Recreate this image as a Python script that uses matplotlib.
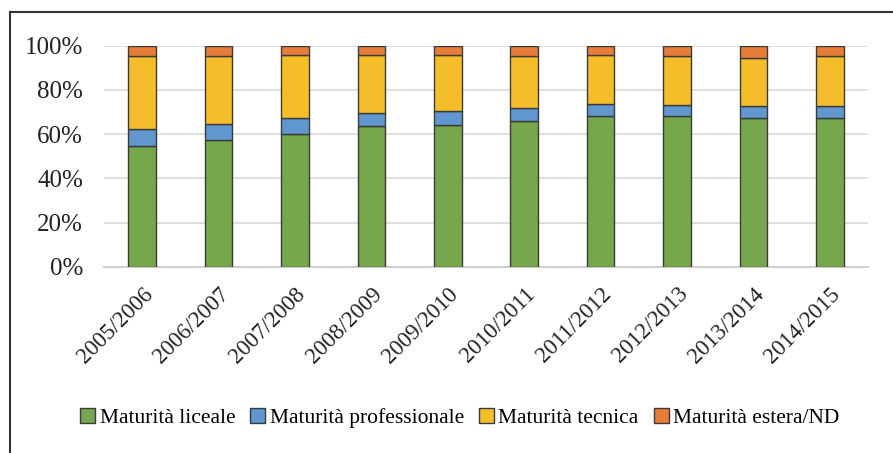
import matplotlib
matplotlib.use("Agg")
import matplotlib.pyplot as plt
from matplotlib.lines import Line2D
from matplotlib.ticker import FuncFormatter
import numpy as np

years = ["2005/2006", "2006/2007", "2007/2008", "2008/2009", "2009/2010",
         "2010/2011", "2011/2012", "2012/2013", "2013/2014", "2014/2015"]

liceale = [54.6, 57.3, 60.2, 63.7, 64.3, 66.1, 68.3, 68.3, 67.3, 67.3]
professionale = [7.6, 7.1, 7.1, 5.8, 6.0, 5.9, 5.5, 4.9, 5.3, 5.3]
tecnica = [33.0, 30.8, 28.5, 26.3, 25.5, 23.2, 22.0, 22.0, 21.8, 22.6]
estera = [4.8, 4.8, 4.2, 4.2, 4.2, 4.8, 4.2, 4.8, 5.6, 4.8]

series = [
    ("Maturità liceale", liceale, "#77A74C"),
    ("Maturità professionale", professionale, "#5F97CE"),
    ("Maturità tecnica", tecnica, "#F4BD29"),
    ("Maturità estera/ND", estera, "#E67E3A"),
]

plt.rcParams["font.family"] = ["Liberation Serif", "DejaVu Serif"]

fig = plt.figure(figsize=(8.93, 4.53), dpi=100)
ax = fig.add_axes([0.1165, 0.411, 0.8555, 0.488])

x = np.arange(len(years))
bottom = np.zeros(len(years))
for name, vals, color in series:
    vals = np.asarray(vals, dtype=float)
    ax.bar(x, vals, width=0.36, bottom=bottom, color=color,
           edgecolor="#3a3a3a", linewidth=1.0, label=name, zorder=3)
    bottom += vals

ax.set_xlim(-0.5, len(years) - 0.5)
ax.set_ylim(0, 100)
ax.set_yticks(np.arange(0, 101, 20))
ax.yaxis.set_major_formatter(FuncFormatter(lambda v, p: f"{int(v)}%"))
ax.grid(axis="y", color="#d9d9d9", linewidth=1.2, zorder=0)
ax.set_axisbelow(True)

for side in ("top", "right", "left"):
    ax.spines[side].set_visible(False)
ax.spines["bottom"].set_color("#d0d0d0")
ax.spines["bottom"].set_linewidth(1.5)

ax.tick_params(axis="both", length=0, colors="#222222")
ax.tick_params(axis="y", pad=15, labelsize=18)
ax.tick_params(axis="x", pad=12, labelsize=16.5)
ax.set_xticks(x)
ax.set_xticklabels(years, rotation=45, ha="right", rotation_mode="anchor")

fig.legend(loc="center", bbox_to_anchor=(0.515, 0.077), ncol=4, frameon=False,
           fontsize=15.5, handlelength=0.7, handleheight=0.7, handletextpad=0.2,
           columnspacing=0.7)

# outer frame (top and left edges)
fig.add_artist(Line2D([0.0112, 1.0], [0.9746, 0.9746], transform=fig.transFigure,
                      color="#333333", linewidth=1.5))
fig.add_artist(Line2D([0.0112, 0.0112], [0.0, 0.9746], transform=fig.transFigure,
                      color="#333333", linewidth=1.5))

fig.savefig("out.png", dpi=100, facecolor="white")
